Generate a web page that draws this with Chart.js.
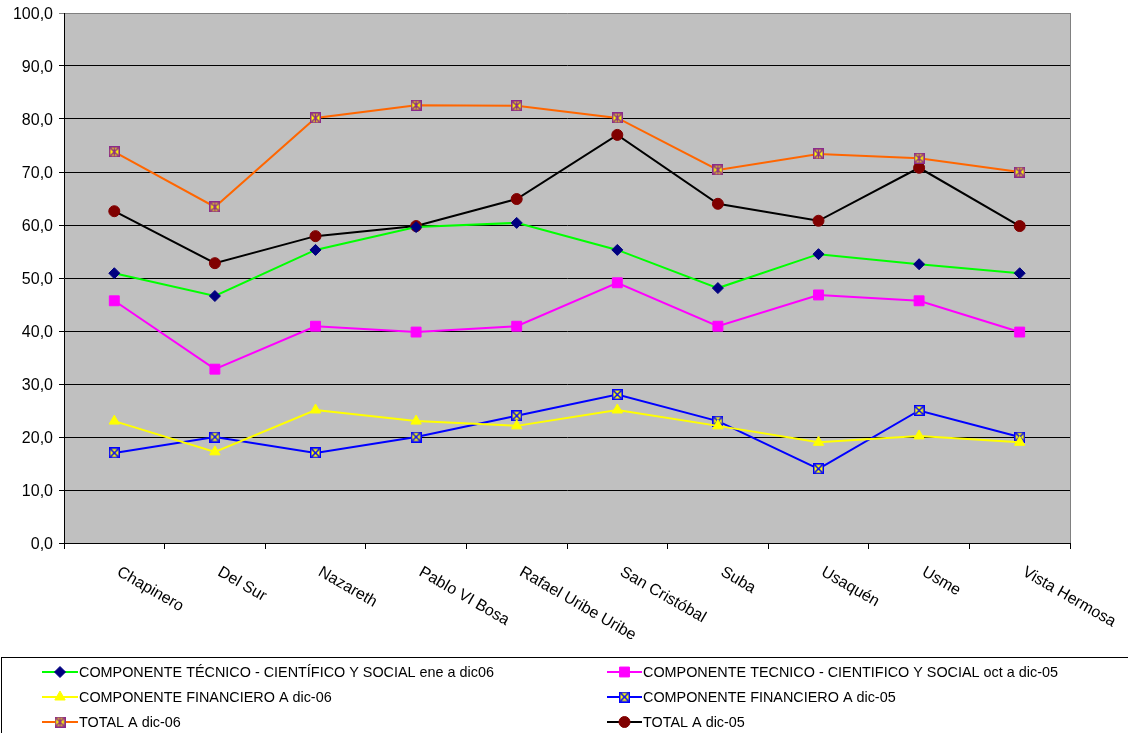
<!DOCTYPE html>
<html>
<head>
<meta charset="utf-8">
<script src="https://cdn.jsdelivr.net/npm/chart.js@4"></script>
<style>
  body { margin: 0; background: #fff; }
  canvas { display: block; }
</style>
</head>
<body>
<canvas id="grafico" width="1128" height="733"></canvas>
<script>
// Datos
const localidades = ['Chapinero', 'Del Sur', 'Nazareth', 'Pablo VI Bosa', 'Rafael Uribe Uribe', 'San Cristóbal', 'Suba', 'Usaquén', 'Usme', 'Vista Hermosa'];
const tecnico06 = [50.9, 46.6, 55.3, 59.6, 60.4, 55.3, 48.1, 54.5, 52.6, 50.9];
const tecnico05 = [45.7, 32.8, 40.9, 39.8, 40.9, 49.1, 40.9, 46.8, 45.7, 39.8];
const financiero06 = [23.0, 17.2, 25.1, 23.0, 22.1, 25.1, 22.1, 19.0, 20.2, 19.0];
const financiero05 = [17.0, 20.0, 17.0, 20.0, 24.0, 28.0, 23.0, 14.0, 25.0, 20.0];
const total06 = [73.8, 63.4, 80.2, 82.6, 82.5, 80.2, 70.4, 73.4, 72.6, 70.0];
const total05 = [62.6, 52.8, 57.9, 59.8, 64.9, 77.0, 64.0, 60.8, 70.8, 59.8];
const nombresSeries = [
  'COMPONENTE TÉCNICO - CIENTÍFICO Y SOCIAL ene a dic06',
  'COMPONENTE TECNICO - CIENTIFICO Y SOCIAL oct a dic-05',
  'COMPONENTE FINANCIERO A dic-06',
  'COMPONENTE FINANCIERO A dic-05',
  'TOTAL A dic-06',
  'TOTAL A dic-05'
];

const FUENTE = '"Liberation Sans", Arial, sans-serif';

// Marcadores cuadrados con cruz
function marcadorCruz(borde, relleno, estrella) {
  const c = document.createElement('canvas');
  c.width = 11; c.height = 11;
  const g = c.getContext('2d');
  g.fillStyle = relleno;
  g.fillRect(0, 0, 11, 11);
  g.strokeStyle = borde;
  g.lineWidth = 1.5;
  g.strokeRect(0.75, 0.75, 9.5, 9.5);
  g.beginPath();
  g.moveTo(1.5, 1.5); g.lineTo(9.5, 9.5);
  g.moveTo(9.5, 1.5); g.lineTo(1.5, 9.5);
  if (estrella) { g.moveTo(5.5, 1.5); g.lineTo(5.5, 9.5); }
  g.stroke();
  return c;
}
const marcaAzul = marcadorCruz('#0000ff', '#ffff00', false);
const marcaTotal = marcadorCruz('#8b2a8b', '#ffff00', true);

function serie(i, datos, linea, estilo, relleno, borde, radio) {
  return {
    label: nombresSeries[i],
    data: datos,
    borderColor: linea,
    borderWidth: 2,
    pointStyle: estilo,
    pointRadius: radio,
    pointBackgroundColor: relleno,
    pointBorderColor: borde,
    pointBorderWidth: 1,
    tension: 0
  };
}

const series = [
  serie(0, tecnico06, '#00ff00', 'rectRot', '#000080', '#000080', 5.5),
  serie(1, tecnico05, '#ff00ff', 'rect', '#ff00ff', '#ff00ff', 7),
  serie(2, financiero06, '#ffff00', 'triangle', '#ffff00', '#ffff00', 6),
  serie(3, financiero05, '#0000ff', marcaAzul, '#ffff00', '#0000ff', 6),
  serie(4, total06, '#ff6600', marcaTotal, '#ffff00', '#8b2a8b', 6),
  serie(5, total05, '#000000', 'circle', '#800000', '#800000', 5.5)
];

// Fondo, etiquetas inclinadas y leyenda
const decoracion = {
  id: 'decoracion',
  beforeDraw(chart) {
    const { ctx, chartArea: a } = chart;
    ctx.save();
    ctx.fillStyle = '#c0c0c0';
    ctx.fillRect(a.left, a.top, a.right - a.left, a.bottom - a.top);
    ctx.restore();
  },
  beforeDatasetsDraw(chart) {
    const { ctx, chartArea: a } = chart;
    ctx.save();
    ctx.strokeStyle = '#808080';
    ctx.lineWidth = 1;
    ctx.beginPath();
    ctx.moveTo(Math.round(a.right) + 0.5, a.top);
    ctx.lineTo(Math.round(a.right) + 0.5, a.bottom);
    ctx.stroke();
    ctx.restore();
  },
  afterDraw(chart) {
    const { ctx, chartArea: a } = chart;
    const x = chart.scales.x;
    ctx.save();
    ctx.fillStyle = '#000';
    ctx.font = '16px ' + FUENTE;
    ctx.textAlign = 'left';
    ctx.textBaseline = 'top';
    localidades.forEach((t, i) => {
      const px = x.getPixelForValue(i);
      ctx.save();
      ctx.translate(px + 8, a.bottom + 21);
      ctx.rotate(Math.PI / 6);
      ctx.fillText(t, 0, 0);
      ctx.restore();
    });

    // Leyenda
    ctx.strokeStyle = '#000';
    ctx.lineWidth = 1;
    ctx.strokeRect(1.5, 657.5, 1140, 100);
    ctx.font = '14.4px ' + FUENTE;
    ctx.textBaseline = 'middle';
    const columnas = [{ x0: 42, x1: 78, tx: 79 }, { x0: 607, x1: 642, tx: 643 }];
    chart.data.datasets.forEach((ds, i) => {
      const col = columnas[i % 2];
      const y = 672 + Math.floor(i / 2) * 25;
      ctx.strokeStyle = ds.borderColor;
      ctx.lineWidth = 2;
      ctx.beginPath();
      ctx.moveTo(col.x0, y);
      ctx.lineTo(col.x1, y);
      ctx.stroke();
      ctx.fillStyle = ds.pointBackgroundColor;
      ctx.strokeStyle = ds.pointBorderColor;
      ctx.lineWidth = 1;
      Chart.helpers.drawPoint(ctx, {
        pointStyle: ds.pointStyle,
        radius: ds.pointRadius,
        borderWidth: 1,
        rotation: 0
      }, (col.x0 + col.x1) / 2, y);
      ctx.fillStyle = '#000';
      ctx.fillText(ds.label, col.tx, y + 1);
    });
    ctx.restore();
  }
};

new Chart(document.getElementById('grafico'), {
  type: 'line',
  data: { labels: localidades, datasets: series },
  options: {
    responsive: false,
    animation: false,
    layout: { padding: { top: 13, right: 58, left: 0, bottom: 0 } },
    plugins: { legend: { display: false }, tooltip: { enabled: false } },
    scales: {
      x: {
        offset: true,
        ticks: { display: false },
        grid: { offset: true, drawOnChartArea: false, color: '#000', tickLength: 6 },
        border: { color: '#000', width: 1 },
        afterFit(s) { s.height = 190; }
      },
      y: {
        min: 0,
        max: 100,
        ticks: {
          stepSize: 10,
          color: '#000',
          padding: 6,
          labelOffset: 2,
          font: { size: 16, family: FUENTE, lineHeight: 0.85 },
          callback: v => v.toFixed(1).replace('.', ',')
        },
        grid: {
          color: c => c.tick && c.tick.value === 100 ? '#808080' : '#000',
          tickLength: 5
        },
        border: { color: '#000', width: 1 },
        afterFit(s) { s.width = 64; }
      }
    }
  },
  plugins: [decoracion]
});
</script>
</body>
</html>
